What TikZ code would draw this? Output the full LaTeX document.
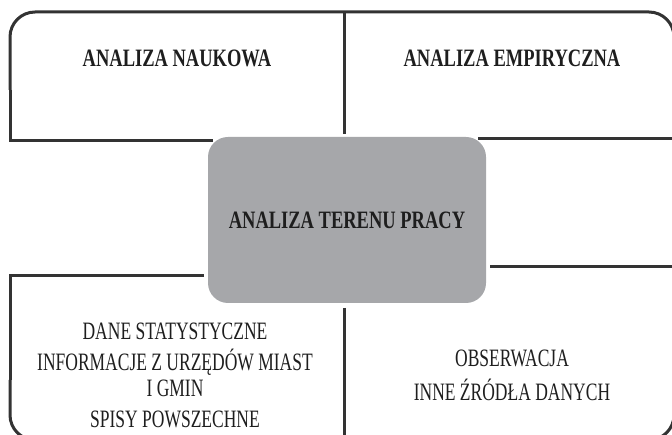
\documentclass[tikz,border=0pt]{standalone}
\usepackage{fontspec}
\setmainfont{Liberation Serif}
\newfontfamily\condfont[FakeStretch=0.70]{Liberation Serif}
\newfontfamily\condbold[FakeStretch=0.74]{Liberation Serif Bold}
\definecolor{linegray}{HTML}{333333}
\definecolor{boxgray}{HTML}{A6A7AA}
\definecolor{inkgray}{HTML}{1E1E1E}
\tikzset{
  frame/.style={line width=3pt, draw=linegray},
  title/.style={anchor=base, text=inkgray, inner sep=0pt,
    font=\condbold\fontsize{25}{28}\selectfont},
  item/.style={anchor=base, text=inkgray, inner sep=0pt, align=center,
    font=\condfont\fontsize{25}{28}\selectfont},
  centrebox/.style={fill=boxgray, rounded corners=20pt, inner sep=0pt,
    minimum width=278pt, minimum height=166pt, text=inkgray,
    font=\condbold\fontsize{25}{28}\selectfont}
}
\begin{document}
\begin{tikzpicture}[x=1pt,y=-1pt]
   \useasboundingbox (0,0) rectangle (672,435);
   \clip (0,0) rectangle (672,435);

   % top row
   \draw[frame] (213,141) -- (10,141) -- (10,90);
   \draw[frame, rounded corners=25pt] (10,90) -- (10,12) -- (674,12) -- (674,90);
   \draw[frame] (674,90) -- (674,139) -- (478,139);
   \draw[frame] (344,12) -- (344,134);

   % bottom row
   \draw[frame] (204,276) -- (10,276) -- (10,380);
   \draw[frame, rounded corners=25pt] (10,380) -- (10,440) -- (674,440) -- (674,380);
   \draw[frame] (674,380) -- (674,267) -- (490,267);
   \draw[frame] (344,308) -- (344,440);

   \node[centrebox] (teren) at (347,220) {ANALIZA TERENU PRACY};

   \node[title] (naukowa) at (177,67) {ANALIZA NAUKOWA};
   \node[title] (empiryczna) at (512,67) {ANALIZA EMPIRYCZNA};

   \node[item] (dane) at (175,340) {DANE STATYSTYCZNE};
   \node[item] (urzedy) at (175,371) {INFORMACJE Z URZĘDÓW MIAST};
   \node[item] (gminy) at (175,397) {I GMIN};
   \node[item] (spisy) at (175,428) {SPISY POWSZECHNE};

   \node[item] (obserwacja) at (512,367) {OBSERWACJA};
   \node[item] (zrodla) at (512,400) {INNE ŹRÓDŁA DANYCH};

\end{tikzpicture}
\end{document}
